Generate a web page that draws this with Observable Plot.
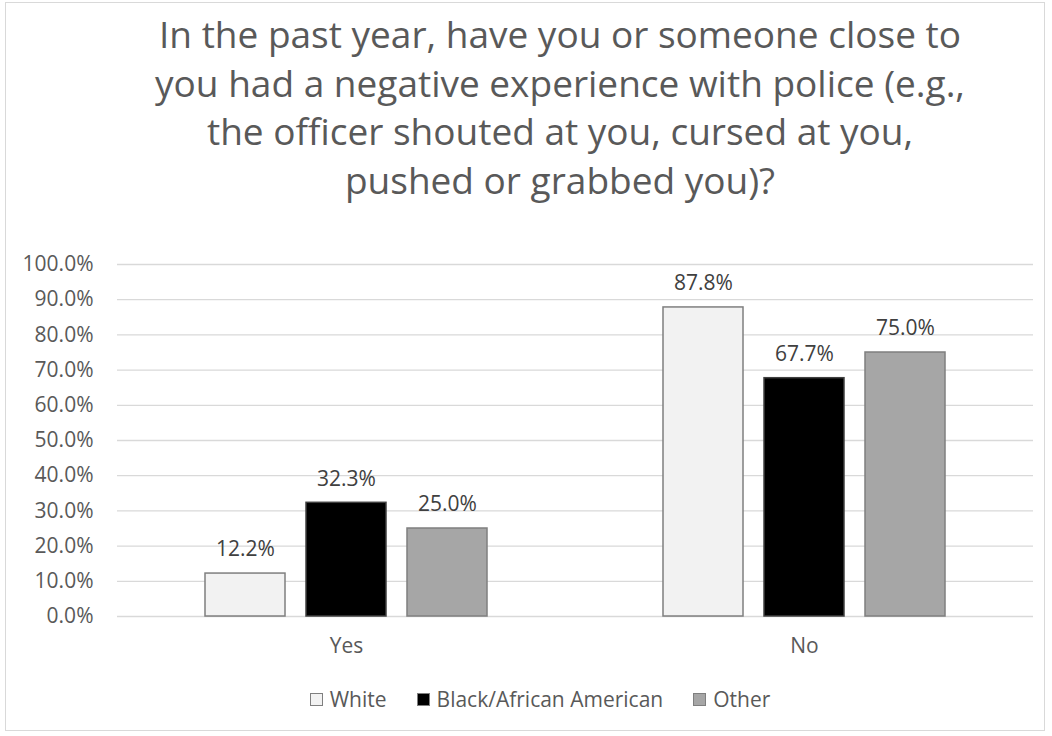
<!DOCTYPE html>
<html><head><meta charset="utf-8">
<script src="https://cdn.jsdelivr.net/npm/d3@7"></script>
<script src="https://cdn.jsdelivr.net/npm/@observablehq/plot@0.6"></script>
<style>
  html,body{margin:0;padding:0;background:#fff;}
  #wrap{position:relative;width:1052px;height:736px;font-family:"Open Sans",Lato,sans-serif;color:#595959;}
  #frame{position:absolute;left:5px;top:2px;width:1040px;height:729px;border:1px solid #d9d9d9;box-sizing:border-box;}
  #title{position:absolute;left:0;top:10px;width:1052px;padding-left:68px;box-sizing:border-box;text-align:center;font-size:37px;line-height:48.5px;color:#595959;}
  #chart{position:absolute;left:0;top:240px;}
  #legend{position:absolute;left:0;top:684px;width:1052px;display:flex;justify-content:center;gap:30px;font-size:21px;line-height:30px;color:#595959;padding-left:28px;box-sizing:border-box;}
  .item{display:flex;align-items:center;gap:7px;}
  .sw{width:11px;height:11px;border:1.5px solid #7f7f7f;}
</style></head>
<body><div id="wrap"><div id="frame"></div>
<div id="title">In the past year, have you or someone close to<br>you had a negative experience with police (e.g.,<br>the officer shouted at you, cursed at you,<br>pushed or grabbed you)?</div>
<div id="chart"></div><div id="legend"></div></div>
<script>
const answers = ["Yes", "No"];
const groups = ["White", "Black/African American", "Other"];
const white = [12.2, 87.8];
const black = [32.3, 67.7];
const other = [25.0, 75.0];
const yTicks = [0,10,20,30,40,50,60,70,80,90,100];
const fills = ["#f2f2f2", "#000000", "#a6a6a6"];
const strokes = ["#7f7f7f", "#404040", "#7f7f7f"];

const series = [white, black, other];
const data = [];
answers.forEach((a, i) => groups.forEach((g, j) => data.push({answer: a, group: g, value: series[j][i]})));

const chart = Plot.plot({
  width: 1052, height: 420,
  marginLeft: 117, marginRight: 19, marginTop: 24, marginBottom: 44,
  style: {fontFamily: "'Open Sans', Lato, sans-serif", fontSize: "21px", color: "#595959", background: "transparent"},
  fx: {domain: answers, padding: 0, label: null, tickSize: 0, tickPadding: 22},
  x: {domain: groups, paddingInner: 0.206, paddingOuter: 0.853, axis: null},
  y: {domain: [0, 100], ticks: yTicks, tickFormat: d => d.toFixed(1) + "%", label: null, tickSize: 0, tickPadding: 24},
  color: {domain: groups, range: fills},
  marks: [
    Plot.ruleY(yTicks, {stroke: "#d9d9d9", strokeWidth: 1.3}),
    Plot.barY(data, {fx: "answer", x: "group", y: "value", fill: "group",
      stroke: d => strokes[groups.indexOf(d.group)], strokeWidth: 1.5}),
    Plot.text(data, {fx: "answer", x: "group", y: "value", text: d => d.value.toFixed(1) + "%",
      dy: -24, fill: "#404040", fontSize: 21})
  ]
});
document.getElementById("chart").appendChild(chart);

const leg = document.getElementById("legend");
groups.forEach((g, j) => {
  const it = document.createElement("div"); it.className = "item";
  const sw = document.createElement("div"); sw.className = "sw"; sw.style.background = fills[j];
  const tx = document.createElement("span"); tx.textContent = g;
  it.appendChild(sw); it.appendChild(tx); leg.appendChild(it);
});
</script></body></html>
